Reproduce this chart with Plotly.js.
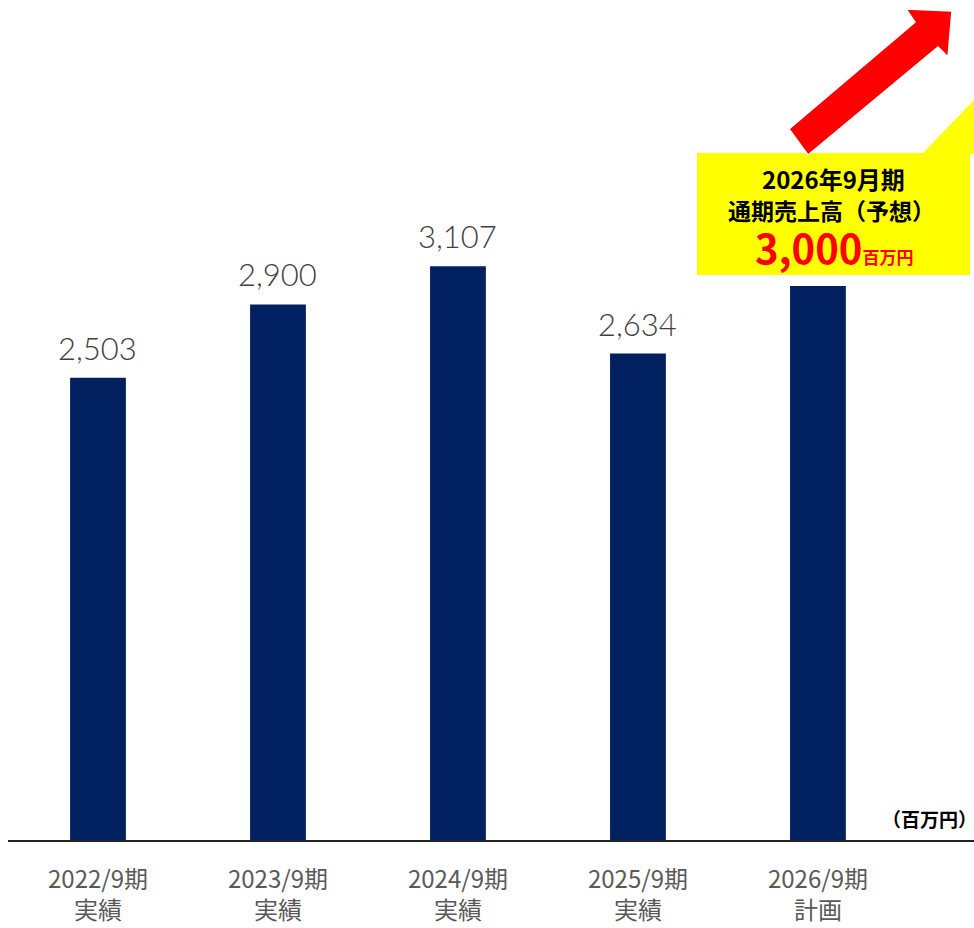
<!DOCTYPE html>
<html>
<head>
<meta charset="utf-8">
<script src="https://cdn.plot.ly/plotly-3.0.1.min.js"></script>
<style>html,body{margin:0;padding:0;background:#fff;}#chart{width:974px;height:928px;}</style>
</head>
<body>
<div id="chart"></div>
<script>
// ---- data ----
const periods = ["2022/9期", "2023/9期", "2024/9期", "2025/9期", "2026/9期"];
const kinds = ["実績", "実績", "実績", "実績", "計画"];
const sales = [2503, 2900, 3107, 2634, 3000];
const showLabel = [true, true, true, true, false];
const forecastTitle = "2026年9月期";
const forecastSub = "通期売上高（予想）";
const forecastValue = 3000;
const unitLabel = "百万円";

// ---- layout helpers (pixel -> paper) ----
const W = 974, H = 928;
const M = {l: 8, r: 0, t: 0, b: 88};
const PW = W - M.l - M.r, PH = H - M.t - M.b;
const px = x => (x - M.l) / PW;
const py = y => (H - M.b - y) / PH;

const cats = periods.map((p, i) => p + "<br>" + kinds[i]);

const trace = {
  type: "bar",
  x: cats,
  y: sales,
  marker: {color: "#002060"},
  width: 0.31,
  hoverinfo: "skip"
};

const annotations = [];
sales.forEach((v, i) => {
  if (!showLabel[i]) return;
  annotations.push({
    x: cats[i], y: v, xref: "x", yref: "y",
    text: v.toLocaleString("en-US"),
    showarrow: false, yanchor: "bottom", yshift: 9,
    font: {family: "Lato, 'Noto Sans', sans-serif", size: 31, color: "#404040", weight: 300}
  });
});

// callout texts
annotations.push({
  xref: "paper", yref: "paper", x: px(833), y: py(178),
  text: "<b>" + forecastTitle + "</b>", showarrow: false,
  xanchor: "center", yanchor: "middle",
  font: {family: "'Noto Sans CJK JP', sans-serif", size: 24, color: "#000"}
});
annotations.push({
  xref: "paper", yref: "paper", x: px(831), y: py(210),
  text: "<b>" + forecastSub + "</b>", showarrow: false,
  xanchor: "center", yanchor: "middle",
  font: {family: "'Noto Sans CJK JP', sans-serif", size: 23, color: "#000"}
});
annotations.push({
  xref: "paper", yref: "paper", x: px(834), y: py(247),
  text: "<b>" + forecastValue.toLocaleString("en-US") + "</b><span style='font-size:17px'><b>" + unitLabel + "</b></span>",
  showarrow: false, xanchor: "center", yanchor: "middle",
  font: {family: "'Noto Sans CJK JP', sans-serif", size: 40, color: "#FF0000"}
});
// unit label
annotations.push({
  xref: "paper", yref: "paper", x: px(880), y: py(818),
  text: "<b>（" + unitLabel + "）</b>", showarrow: false,
  xanchor: "left", yanchor: "middle",
  font: {family: "'Noto Sans CJK JP', sans-serif", size: 19, color: "#000"}
});

function poly(pts) {
  return "M" + pts.map(p => px(p[0]) + "," + py(p[1])).join(" L") + " Z";
}

const shapes = [
  // yellow wedge
  {type: "path", xref: "paper", yref: "paper", path: poly([[922,154],[974,100],[974,154]]),
   fillcolor: "#FFFF00", line: {width: 0}, layer: "above"},
  // yellow box
  {type: "rect", xref: "paper", yref: "paper", x0: px(697), x1: px(970), y0: py(275), y1: py(153),
   fillcolor: "#FFFF00", line: {width: 0}, layer: "above"},
  // red arrow
  {type: "path", xref: "paper", yref: "paper",
   path: poly([[789,129],[915,22],[906,9],[952,11],[948,57],[938,47],[808,155]]),
   fillcolor: "#FF0000", line: {color: "#FFFFFF", width: 1.5}, layer: "above"}
];

const layout = {
  width: W, height: H,
  margin: M,
  paper_bgcolor: "#fff", plot_bgcolor: "#fff",
  showlegend: false,
  bargap: 0.69,
  xaxis: {
    type: "category",
    range: [-0.5, 4.867],
    showline: true, linecolor: "#222", linewidth: 2,
    showgrid: false, zeroline: false, ticks: "",
    ticklabelstandoff: 17,
    tickfont: {family: "'Noto Sans CJK JP', sans-serif", size: 24, color: "#595959"}
  },
  yaxis: {
    range: [0, 4548],
    visible: false, showgrid: false, zeroline: false
  },
  annotations: annotations,
  shapes: shapes
};

Plotly.newPlot("chart", [trace], layout, {staticPlot: true, displayModeBar: false});
</script>
</body>
</html>
